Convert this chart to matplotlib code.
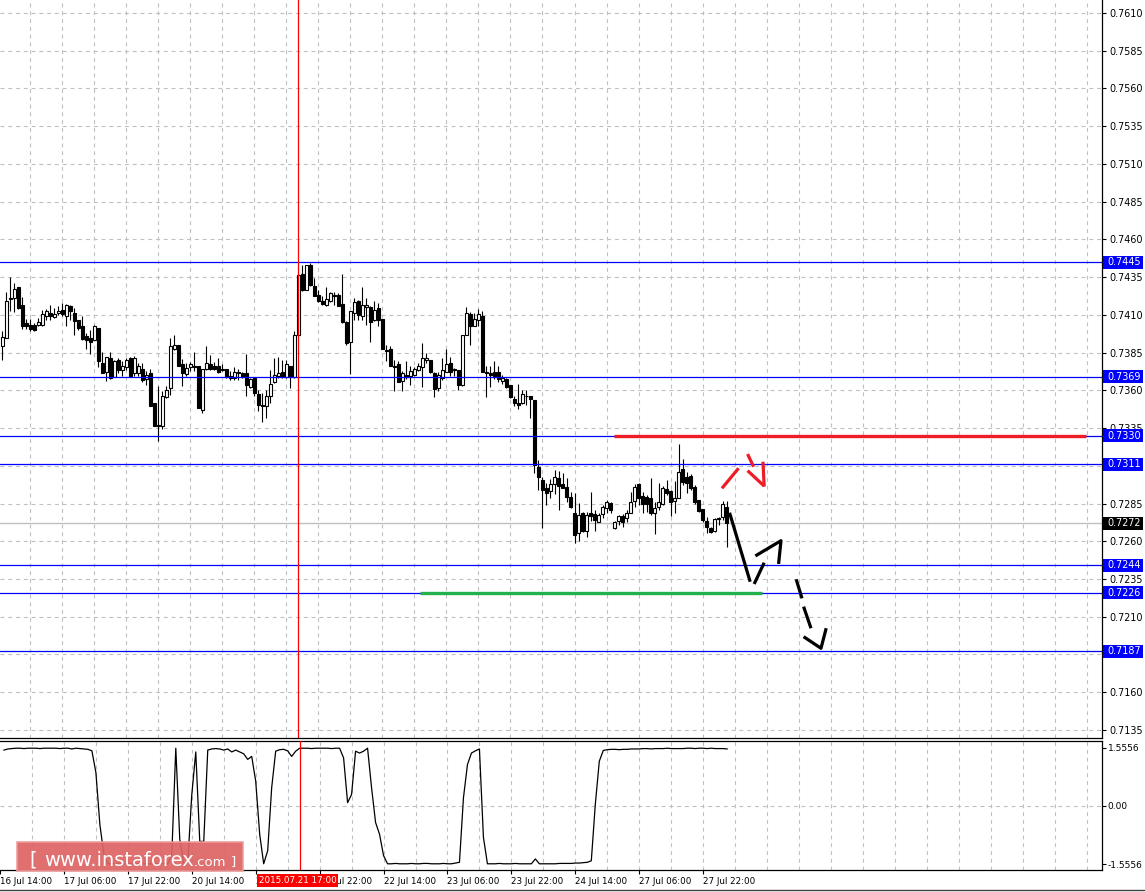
import matplotlib
matplotlib.use("Agg")
import matplotlib.pyplot as plt
from matplotlib.patches import Rectangle
from matplotlib.transforms import blended_transform_factory
import numpy as np

W, H = 1145, 892

# ---------------- data (H1 candles, 16 Jul 15:00 ... 28 Jul) --------------
opens = [
    0.73892, 0.73947, 0.74203, 0.74212, 0.74285, 0.74168, 0.74046, 0.74035, 0.74031, 0.74031,
    0.74035, 0.74090, 0.74112, 0.74086, 0.74112, 0.74135, 0.74090, 0.74157, 0.74112, 0.74068,
    0.74024, 0.73958, 0.73947, 0.73931, 0.74013, 0.73781, 0.73720, 0.73814, 0.73689, 0.73803,
    0.73737, 0.73755, 0.73814, 0.73715, 0.73715, 0.73742, 0.73675, 0.73715, 0.73516, 0.73373,
    0.73366, 0.73556, 0.73616, 0.73876, 0.73903, 0.73777, 0.73711, 0.73755, 0.73764, 0.73764,
    0.73472, 0.73742, 0.73775, 0.73764, 0.73759, 0.73737, 0.73744, 0.73693, 0.73682, 0.73715,
    0.73715, 0.73715, 0.73620, 0.73682, 0.73578, 0.73505, 0.73499, 0.73560, 0.73653, 0.73693,
    0.73720, 0.73689, 0.73764, 0.73689, 0.73969, 0.74373, 0.74267, 0.74433, 0.74294, 0.74234,
    0.74190, 0.74168, 0.74190, 0.74234, 0.74230, 0.74174, 0.74051, 0.73920, 0.74112, 0.74190,
    0.74090, 0.74152, 0.74152, 0.74064, 0.74146, 0.74075, 0.73867, 0.73876, 0.73764, 0.73775,
    0.73664, 0.73704, 0.73697, 0.73704, 0.73733, 0.73755, 0.73803, 0.73799, 0.73715, 0.73616,
    0.73682, 0.73722, 0.73781, 0.73744, 0.73737, 0.73638, 0.73969, 0.74108, 0.74029, 0.74064,
    0.74095, 0.73722, 0.73715, 0.73722, 0.73722, 0.73664, 0.73678, 0.73638, 0.73545, 0.73516,
    0.73516, 0.73560, 0.73560, 0.73538, 0.73094, 0.73006, 0.72955, 0.72933, 0.72977, 0.73017,
    0.72977, 0.72962, 0.72896, 0.72785, 0.72653, 0.72785, 0.72668, 0.72785, 0.72779, 0.72730,
    0.72779, 0.72818, 0.72851, 0.72690, 0.72737, 0.72770, 0.72752, 0.72785, 0.72867, 0.72977,
    0.72902, 0.72896, 0.72889, 0.72785, 0.72825, 0.72845, 0.72946, 0.72935, 0.72867, 0.72889,
    0.73079, 0.73024, 0.73035, 0.72962, 0.72874, 0.72812, 0.72734, 0.72686, 0.72668, 0.72752,
    0.72763, 0.72829,
]
highs = [
    0.73991, 0.74252, 0.74351, 0.74311, 0.74285, 0.74216, 0.74075, 0.74073, 0.74046, 0.74079,
    0.74135, 0.74139, 0.74168, 0.74146, 0.74161, 0.74179, 0.74174, 0.74168, 0.74146, 0.74068,
    0.74090, 0.73980, 0.74002, 0.74035, 0.74013, 0.73852, 0.73821, 0.73854, 0.73803, 0.73814,
    0.73792, 0.73814, 0.73821, 0.73825, 0.73781, 0.73781, 0.73726, 0.73744, 0.73516, 0.73627,
    0.73594, 0.73627, 0.73947, 0.73969, 0.73903, 0.73808, 0.73781, 0.73790, 0.73852, 0.73764,
    0.73742, 0.73896, 0.73836, 0.73786, 0.73814, 0.73775, 0.73744, 0.73726, 0.73755, 0.73742,
    0.73722, 0.73843, 0.73682, 0.73682, 0.73605, 0.73583, 0.73605, 0.73737, 0.73814, 0.73821,
    0.73803, 0.73803, 0.73764, 0.73995, 0.74377, 0.74433, 0.74433, 0.74444, 0.74344, 0.74263,
    0.74223, 0.74285, 0.74252, 0.74252, 0.74245, 0.74373, 0.74057, 0.74128, 0.74212, 0.74201,
    0.74285, 0.74212, 0.74157, 0.74190, 0.74179, 0.74075, 0.73903, 0.73892, 0.73803, 0.73797,
    0.73726, 0.73792, 0.73759, 0.73755, 0.73781, 0.73914, 0.73848, 0.73803, 0.73720, 0.73720,
    0.73814, 0.73874, 0.73821, 0.73748, 0.73737, 0.73965, 0.74152, 0.74117, 0.74112, 0.74139,
    0.74124, 0.73764, 0.73759, 0.73792, 0.73759, 0.73704, 0.73682, 0.73638, 0.73560, 0.73644,
    0.73605, 0.73605, 0.73565, 0.73538, 0.73138, 0.73028, 0.72984, 0.73013, 0.73072, 0.73066,
    0.73050, 0.73017, 0.72929, 0.72922, 0.72851, 0.72796, 0.72796, 0.72924, 0.72807, 0.72785,
    0.72840, 0.72874, 0.72858, 0.72734, 0.72774, 0.72779, 0.72807, 0.72929, 0.72977, 0.72984,
    0.72929, 0.72907, 0.73022, 0.72862, 0.72984, 0.72969, 0.73006, 0.72940, 0.72999, 0.73242,
    0.73143, 0.73057, 0.73044, 0.72973, 0.72874, 0.72812, 0.72763, 0.72697, 0.72752, 0.72763,
    0.72867, 0.72867,
]
lows = [
    0.73799, 0.73947, 0.74124, 0.74117, 0.74139, 0.74009, 0.74009, 0.73991, 0.73991, 0.74024,
    0.74029, 0.74064, 0.74068, 0.74079, 0.74101, 0.74090, 0.74029, 0.74064, 0.73969, 0.74002,
    0.73931, 0.73876, 0.73843, 0.73931, 0.73755, 0.73715, 0.73660, 0.73678, 0.73689, 0.73715,
    0.73697, 0.73737, 0.73693, 0.73693, 0.73693, 0.73653, 0.73638, 0.73494, 0.73362, 0.73262,
    0.73344, 0.73549, 0.73572, 0.73870, 0.73759, 0.73631, 0.73697, 0.73726, 0.73726, 0.73483,
    0.73450, 0.73737, 0.73733, 0.73733, 0.73715, 0.73726, 0.73682, 0.73671, 0.73671, 0.73671,
    0.73682, 0.73560, 0.73616, 0.73560, 0.73461, 0.73388, 0.73417, 0.73516, 0.73649, 0.73682,
    0.73682, 0.73682, 0.73616, 0.73682, 0.73962, 0.74256, 0.74263, 0.74289, 0.74223, 0.74183,
    0.74168, 0.74161, 0.74183, 0.74168, 0.74161, 0.74046, 0.73903, 0.73711, 0.74068, 0.74064,
    0.74064, 0.74035, 0.73918, 0.74057, 0.74029, 0.73874, 0.73792, 0.73759, 0.73594, 0.73653,
    0.73594, 0.73675, 0.73638, 0.73697, 0.73726, 0.73622, 0.73781, 0.73715, 0.73556, 0.73594,
    0.73671, 0.73720, 0.73693, 0.73693, 0.73605, 0.73631, 0.73969, 0.73903, 0.74024, 0.74029,
    0.73722, 0.73556, 0.73622, 0.73675, 0.73653, 0.73644, 0.73616, 0.73549, 0.73499, 0.73477,
    0.73512, 0.73505, 0.73417, 0.73050, 0.72940, 0.72686, 0.72840, 0.72885, 0.72911, 0.72807,
    0.72951, 0.72862, 0.72818, 0.72587, 0.72602, 0.72664, 0.72631, 0.72734, 0.72668, 0.72726,
    0.72757, 0.72785, 0.72785, 0.72682, 0.72708, 0.72697, 0.72730, 0.72785, 0.72829, 0.72840,
    0.72785, 0.72796, 0.72774, 0.72646, 0.72807, 0.72840, 0.72907, 0.72770, 0.72785, 0.72885,
    0.72973, 0.72918, 0.72940, 0.72845, 0.72796, 0.72730, 0.72653, 0.72653, 0.72664, 0.72708,
    0.72741, 0.72564,
]
closes = [
    0.73954, 0.74194, 0.74212, 0.74271, 0.74146, 0.74029, 0.74024, 0.74009, 0.74002, 0.74051,
    0.74106, 0.74124, 0.74090, 0.74108, 0.74128, 0.74106, 0.74168, 0.74124, 0.74057, 0.74013,
    0.73940, 0.73931, 0.73920, 0.74029, 0.73792, 0.73715, 0.73821, 0.73682, 0.73797, 0.73737,
    0.73764, 0.73803, 0.73697, 0.73814, 0.73759, 0.73667, 0.73704, 0.73499, 0.73366, 0.73362,
    0.73565, 0.73605, 0.73892, 0.73903, 0.73759, 0.73715, 0.73746, 0.73777, 0.73755, 0.73483,
    0.73742, 0.73781, 0.73744, 0.73744, 0.73722, 0.73744, 0.73689, 0.73680, 0.73722, 0.73722,
    0.73686, 0.73633, 0.73678, 0.73583, 0.73501, 0.73494, 0.73565, 0.73642, 0.73700, 0.73715,
    0.73689, 0.73775, 0.73689, 0.73969, 0.74366, 0.74267, 0.74428, 0.74300, 0.74223, 0.74190,
    0.74172, 0.74205, 0.74245, 0.74223, 0.74161, 0.74051, 0.73914, 0.74128, 0.74185, 0.74101,
    0.74168, 0.74168, 0.74051, 0.74135, 0.74064, 0.73874, 0.73863, 0.73759, 0.73755, 0.73656,
    0.73715, 0.73686, 0.73726, 0.73744, 0.73764, 0.73814, 0.73814, 0.73722, 0.73609, 0.73704,
    0.73733, 0.73775, 0.73722, 0.73737, 0.73633, 0.73965, 0.74112, 0.74029, 0.74073, 0.74108,
    0.73722, 0.73715, 0.73700, 0.73697, 0.73678, 0.73682, 0.73622, 0.73556, 0.73516, 0.73505,
    0.73578, 0.73565, 0.73543, 0.73105, 0.73028, 0.72940, 0.72918, 0.72977, 0.73024, 0.72969,
    0.72955, 0.72896, 0.72829, 0.72642, 0.72774, 0.72668, 0.72774, 0.72770, 0.72741, 0.72774,
    0.72829, 0.72862, 0.72807, 0.72726, 0.72770, 0.72726, 0.72785, 0.72862, 0.72962, 0.72885,
    0.72845, 0.72845, 0.72785, 0.72823, 0.72862, 0.72955, 0.72918, 0.72862, 0.72885, 0.73061,
    0.72991, 0.72984, 0.72955, 0.72862, 0.72803, 0.72741, 0.72697, 0.72664, 0.72746, 0.72746,
    0.72845, 0.72719,
]
indicator = [
    1.50, 1.53, 1.54, 1.55, 1.55, 1.54, 1.55, 1.55, 1.55, 1.54,
    1.55, 1.55, 1.55, 1.55, 1.54, 1.55, 1.55, 1.53, 1.55, 1.54,
    1.53, 1.52, 1.48, 0.90, -0.50, -1.30, -1.55, -1.55, -1.55, -1.55,
    -1.55, -1.55, -1.55, -1.55, -1.55, -1.55, -1.55, -1.55, -1.55, -1.55,
    -1.55, -1.55, -1.30, 1.55, -0.90, -1.55, -1.50, 0.30, 1.45, -0.95,
    -0.95, 1.50, 1.53, 1.54, 1.53, 1.50, 1.53, 1.45, 1.50, 1.45,
    1.40, 1.25, 1.33, 0.67, -0.76, -1.55, -1.20, 0.49, 1.47, 1.51,
    1.52, 1.48, 1.33, 1.47, 1.55, 1.55, 1.55, 1.54, 1.55, 1.55,
    1.55, 1.55, 1.54, 1.55, 1.55, 1.29, 0.09, 0.31, 1.47, 1.42,
    1.47, 1.55, 0.49, -0.44, -0.76, -1.33, -1.55, -1.55, -1.54, -1.55,
    -1.55, -1.55, -1.54, -1.55, -1.55, -1.54, -1.54, -1.55, -1.55, -1.55,
    -1.54, -1.55, -1.55, -1.53, -1.51, 0.22, 1.11, 1.42, 1.48, 1.53,
    -0.84, -1.55, -1.55, -1.55, -1.54, -1.55, -1.55, -1.55, -1.54, -1.55,
    -1.55, -1.55, -1.55, -1.42, -1.55, -1.55, -1.55, -1.55, -1.55, -1.54,
    -1.54, -1.54, -1.54, -1.53, -1.53, -1.52, -1.51, -1.47, 0.04, 1.20,
    1.49, 1.51, 1.52, 1.52, 1.51, 1.52, 1.52, 1.53, 1.53, 1.53,
    1.54, 1.54, 1.53, 1.54, 1.54, 1.54, 1.55, 1.54, 1.54, 1.54,
    1.54, 1.55, 1.55, 1.54, 1.55, 1.55, 1.54, 1.55, 1.54, 1.54,
    1.54, 1.53,
]

price_ticks = [0.7135, 0.7160, 0.7185, 0.7210, 0.7235, 0.7260, 0.7285, 0.7310, 0.7335, 0.7360,
               0.7385, 0.7410, 0.7435, 0.7460, 0.7485, 0.7510, 0.7535, 0.7560, 0.7585, 0.7610]
hidden_price_ticks = [0.7185, 0.7310]   # fully covered by the level boxes in the original
level_lines = [0.7445, 0.7369, 0.7330, 0.7311, 0.7244, 0.7226, 0.7187]
current_price = 0.7272
ind_ticks = [1.5556, 0.0, -1.5556]
ind_tick_labels = ["1.5556", "0.00", "-1.5556"]

time_labels = ["16 Jul 14:00", "17 Jul 06:00", "17 Jul 22:00", "20 Jul 14:00", "21 Jul 06:00",
               "21 Jul 22:00", "22 Jul 14:00", "23 Jul 06:00", "23 Jul 22:00", "24 Jul 14:00",
               "27 Jul 06:00", "27 Jul 22:00"]
time_label_bars = [-1, 15, 31, 47, 63, 79, 95, 111, 127, 143, 159, 175]
marker_bar = 74
marker_label = "2015.07.21 17:00"

# analyst drawings: (bar index, price) points
resistance = (152.9, 270.9, 0.7330)
support = (104.4, 189.9, 0.7226)
red_strokes = [
    [(179.85, 0.72951), (184.0, 0.73084)],
    [(186.25, 0.73178), (187.75, 0.73094)],
    [(186.25, 0.73068), (190.4, 0.72966)],
    [(190.1, 0.73127), (190.4, 0.72962)],
]
black_strokes = [
    [(181.75, 0.72789), (186.9, 0.72332)],
    [(187.9, 0.72317), (190.4, 0.72458)],
    [(188.2, 0.72503), (194.6, 0.72604), (194.0, 0.72450)],
    [(198.4, 0.72348), (199.85, 0.72222)],
    [(200.25, 0.72167), (202.1, 0.72024)],
    [(200.25, 0.71968), (204.6, 0.71891), (205.9, 0.72024)],
]

# ---------------- figure ----------------
fig = plt.figure(figsize=(W / 100, H / 100), dpi=100)
plt.rcParams['font.family'] = ['DejaVu Sans']

def fx(px):
    return px / W

def fy(py):
    return 1 - py / H

right_px = 1101.5
ax = fig.add_axes([0, fy(738), fx(right_px), fy(0) - fy(738)])
axi = fig.add_axes([0, fy(870), fx(right_px), fy(741) - fy(870)])

xlim = (-0.575, 274.7)
ax.set_xlim(*xlim)
axi.set_xlim(*xlim)
ax.set_ylim(0.712967, 0.761861)
axi.set_ylim(-1.7165, 1.7433)

gridc = '#C0C0C0'
for a in (ax, axi):
    for gx in np.arange(7, 275, 8):
        a.axvline(gx, color=gridc, lw=0.8, ls=(0, (3.5, 3.5)), zorder=0)
for p in price_ticks:
    ax.axhline(p, color=gridc, lw=0.8, ls=(0, (3.5, 3.5)), zorder=0)
axi.axhline(0, color=gridc, lw=0.8, ls=(0, (3.5, 3.5)), zorder=0)

# candles
x = np.arange(len(opens))
o = np.array(opens); h = np.array(highs); l = np.array(lows); c = np.array(closes)
up = c >= o
ax.vlines(x, l, h, color='black', lw=0.8, zorder=3)
bb = np.minimum(o, c)
bh = np.abs(c - o)
ax.bar(x[up], bh[up], bottom=bb[up], width=0.6, facecolor='white', edgecolor='black',
       linewidth=0.8, zorder=4)
ax.bar(x[~up], bh[~up], bottom=bb[~up], width=0.6, facecolor='black', edgecolor='black',
       linewidth=0.8, zorder=4)

# horizontal levels
ax.axhline(current_price, color='#C0C0C0', lw=1.0, zorder=2)
for lv in level_lines:
    ax.axhline(lv, color='#0000FF', lw=0.9, zorder=5)

# drawings
ax.plot([resistance[0], resistance[1]], [resistance[2]] * 2, color='#EE1C25', lw=2.4,
        solid_capstyle='butt', zorder=6)
ax.plot([support[0], support[1]], [support[2]] * 2, color='#22B14C', lw=2.4,
        solid_capstyle='butt', zorder=6)
for s in red_strokes:
    xs, ys = zip(*s)
    ax.plot(xs, ys, color='#EE1C25', lw=2.3, solid_capstyle='butt', zorder=7)
for s in black_strokes:
    xs, ys = zip(*s)
    ax.plot(xs, ys, color='black', lw=2.3, solid_capstyle='butt', zorder=7)

# red vertical marker
for a in (ax, axi):
    a.axvline(marker_bar, color='#FF0000', lw=0.9, zorder=8)

# indicator line
axi.plot(np.arange(len(indicator)), indicator, color='black', lw=0.9, zorder=3)

# spines / ticks
for a in (ax, axi):
    a.spines['left'].set_visible(False)
    for s in ('right', 'bottom', 'top'):
        a.spines[s].set_color('black')
        a.spines[s].set_linewidth(0.9)
    a.yaxis.tick_right()
    a.tick_params(axis='y', direction='out', length=3, width=0.8, pad=2.5,
                  labelsize=6.9, colors='black')
ax.spines['top'].set_visible(False)
axi.tick_params(axis='y', labelsize=6.5, pad=1.5)

ax.set_yticks(price_ticks)
ax.set_yticklabels(["" if p in hidden_price_ticks else f"{p:.4f}" for p in price_ticks])
ax.set_xticks([])

axi.set_yticks(ind_ticks)
axi.set_yticklabels(ind_tick_labels)
axi.set_xticks(time_label_bars)
axi.set_xticklabels(time_labels, ha='left')
axi.tick_params(axis='x', direction='out', length=3, width=0.8, pad=2, labelsize=6.3)

# price boxes on the right scale
bt = blended_transform_factory(ax.transAxes, ax.transData)
box_h = 13 / 15094.0
for lv, col in [(v, '#0000FF') for v in level_lines] + [(current_price, '#000000')]:
    ax.add_patch(Rectangle((1103 / right_px, lv - box_h / 2), 40 / right_px, box_h,
                           transform=bt, facecolor=col, edgecolor='none', clip_on=False, zorder=20))
    ax.text(1107 / right_px, lv, f"{lv:.4f}", transform=bt, color='white', fontsize=6.9,
            va='center', ha='left', clip_on=False, zorder=21)

# red date label on time scale
fig.text(fx(297.5), fy(880.5), marker_label, color='white', fontsize=6.3, ha='center', va='center',
         bbox=dict(boxstyle='square,pad=0.18', facecolor='#FF0000', edgecolor='none'), zorder=30)

# bottom window border
fig.add_artist(plt.Line2D([0, 1], [fy(889.5), fy(889.5)], color='#404040', lw=1.0,
                          transform=fig.transFigure))

# watermark logo
fig.add_artist(Rectangle((fx(17), fy(871)), fx(243) - fx(17), fy(842) - fy(871),
                         transform=fig.transFigure, facecolor='#DE6464', edgecolor='#EC9A9A',
                         lw=1.2, alpha=0.93, zorder=40))
base = fy(865.5)
fig.text(fx(29), base, "[", color='white', fontsize=14, va='baseline', ha='left', zorder=41)
t1 = fig.text(fx(44), base, "www.instaforex", color='white', fontsize=14, va='baseline',
              ha='left', zorder=41)
fig.canvas.draw()
r = fig.canvas.get_renderer()
e1 = t1.get_window_extent(r)
t2 = fig.text(e1.x1 / W, base, ".com", color='white', fontsize=9.5, va='baseline', ha='left',
              zorder=41)
fig.canvas.draw()
e2 = t2.get_window_extent(r)
fig.text(e2.x1 / W + 4 / W, base, "]", color='white', fontsize=9.5, va='baseline', ha='left',
         zorder=41)

fig.savefig('out.png', dpi=100, facecolor='white')
